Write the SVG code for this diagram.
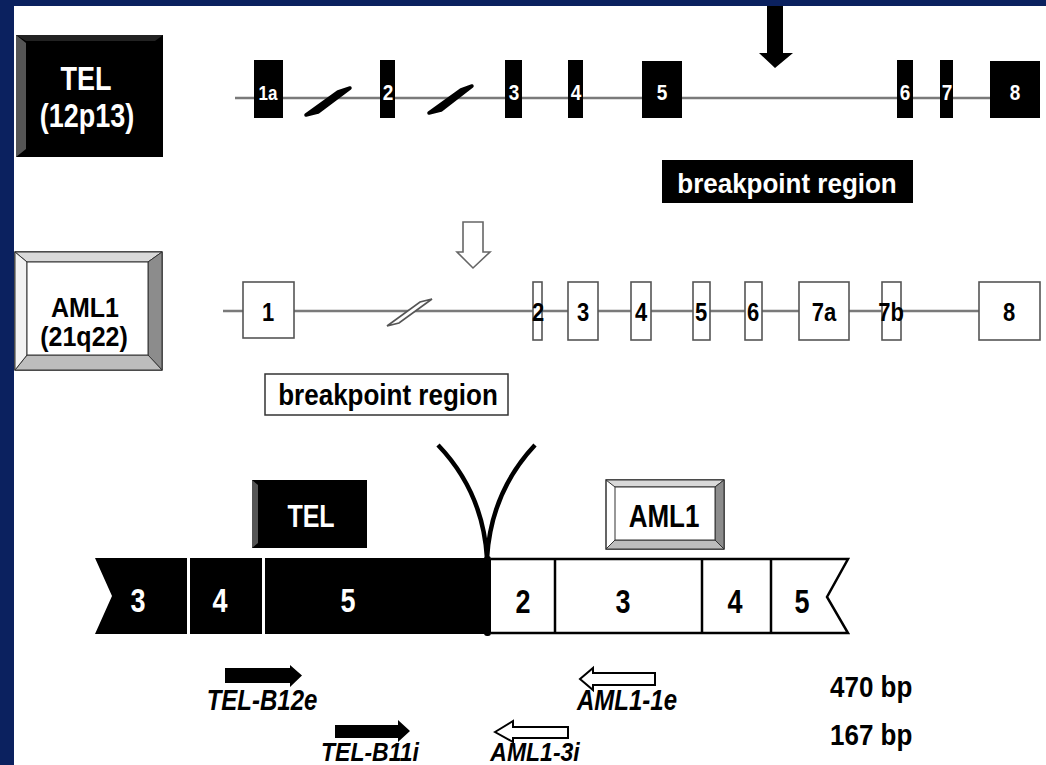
<svg xmlns="http://www.w3.org/2000/svg" width="1046" height="765" viewBox="0 0 1046 765">
<style>
text{font-family:"Liberation Sans",Arial,sans-serif;font-weight:bold;text-anchor:middle}
.w{fill:#fff}
.k{fill:#000}
.it{font-style:italic}
.gene{stroke:#7a7a7a;stroke-width:2.5;fill:none}
.bex{fill:#000}
.wex{fill:#fff;stroke:#555;stroke-width:1.6}
.bar{stroke:#000;stroke-width:2.5}
</style>
<rect x="0" y="0" width="1046" height="765" fill="#fff"/>

<g id="tel-label">
<rect x="16" y="35" width="147" height="122" fill="#000"/>
<polygon points="16,35 26,43 26,149 16,157" fill="#555"/>
<polygon points="16,35 163,35 155,41 26,41" fill="#222"/>
<text class="w" font-size="27" transform="translate(86,90) scale(1,1.2)">TEL</text>
<text class="w" font-size="27" transform="translate(87,127) scale(1,1.2)">(12p13)</text>
</g>

<g id="tel-gene">
<line class="gene" x1="235" y1="98" x2="990" y2="98"/>
<rect class="bex" x="254" y="60" width="29" height="58"/>
<rect class="bex" x="380" y="60" width="15" height="58"/>
<rect class="bex" x="505" y="60" width="17" height="58"/>
<rect class="bex" x="568" y="60" width="15" height="58"/>
<rect class="bex" x="642" y="61" width="40" height="57"/>
<rect class="bex" x="897" y="60" width="16" height="58"/>
<rect class="bex" x="940" y="60" width="13" height="58"/>
<rect class="bex" x="990" y="61" width="50" height="57"/>
<polygon points="306,115 338,92 350,88 318,112" fill="#000" stroke="#000" stroke-width="3.5" stroke-linejoin="round"/>
<polygon points="429,113 461,90 472,86 441,110" fill="#000" stroke="#000" stroke-width="3.5" stroke-linejoin="round"/>
<g font-size="19">
<text class="w" font-size="17" transform="translate(268,100) scale(1,1.15)">1a</text>
<text class="w" transform="translate(388,100) scale(1,1.15)">2</text>
<text class="w" transform="translate(514,100) scale(1,1.15)">3</text>
<text class="w" transform="translate(576,100) scale(1,1.15)">4</text>
<text class="w" transform="translate(662,100) scale(1,1.15)">5</text>
<text class="w" transform="translate(905,100) scale(1,1.15)">6</text>
<text class="w" transform="translate(947,100) scale(1,1.15)">7</text>
<text class="w" transform="translate(1015,100) scale(1,1.15)">8</text>
</g>
</g>

<g id="tel-breakpoint">
<rect x="662" y="160" width="251" height="43" fill="#000"/>
<text class="w" font-size="26" transform="translate(787,193) scale(1,1.05)">breakpoint region</text>
</g>

<g id="aml1-label">
<rect x="15" y="252" width="147" height="118" fill="#fff" stroke="#333" stroke-width="1.5"/>
<polygon points="15,252 162,252 148,262 27,262" fill="#d9d9d9" stroke="#333" stroke-width="1"/>
<polygon points="162,252 162,370 148,355 148,262" fill="#8c8c8c" stroke="#333" stroke-width="1"/>
<polygon points="15,370 162,370 148,355 27,355" fill="#bdbdbd" stroke="#333" stroke-width="1"/>
<polygon points="15,252 27,262 27,355 15,370" fill="#f2f2f2" stroke="#333" stroke-width="1"/>
<rect x="27" y="262" width="121" height="93" fill="#fff" stroke="#333" stroke-width="1"/>
<text class="k" font-size="25" transform="translate(85,317) scale(1,1.1)">AML1</text>
<text class="k" font-size="25" transform="translate(84,346) scale(1,1.1)">(21q22)</text>
</g>

<g id="aml1-gene">
<line class="gene" x1="223" y1="311" x2="979" y2="311"/>
<rect class="wex" x="243" y="282" width="51" height="56"/>
<rect class="wex" x="533" y="282" width="9" height="58"/>
<rect class="wex" x="568" y="282" width="30" height="58"/>
<rect class="wex" x="631" y="282" width="20" height="58"/>
<rect class="wex" x="693" y="282" width="17" height="58"/>
<rect class="wex" x="745" y="282" width="17" height="58"/>
<rect class="wex" x="799" y="282" width="50" height="58"/>
<rect class="wex" x="882" y="282" width="19" height="58"/>
<rect class="wex" x="979" y="282" width="61" height="58"/>
<polygon points="387,326 420,302 432,299 399,323" fill="#fff" stroke="#555" stroke-width="1.6"/>
<g font-size="22">
<text class="k" transform="translate(268,321) scale(1,1.15)">1</text>
<text class="k" transform="translate(538,321) scale(1,1.15)">2</text>
<text class="k" transform="translate(583,321) scale(1,1.15)">3</text>
<text class="k" transform="translate(641,321) scale(1,1.15)">4</text>
<text class="k" transform="translate(701,321) scale(1,1.15)">5</text>
<text class="k" transform="translate(753,321) scale(1,1.15)">6</text>
<text class="k" transform="translate(824,321) scale(1,1.15)">7a</text>
<text class="k" transform="translate(891,321) scale(1,1.15)">7b</text>
<text class="k" transform="translate(1009,321) scale(1,1.15)">8</text>
</g>
</g>

<g id="aml1-breakpoint">
<rect x="265" y="374" width="243" height="41" fill="#fff" stroke="#333" stroke-width="1.5"/>
<text class="k" font-size="26" transform="translate(388,405) scale(1,1.1)">breakpoint region</text>
</g>

<g id="connectors">
<polygon points="767,0 783,0 783,53 793,53 775,68 759,53 767,53" fill="#000"/>
<polygon points="463,222 483,222 483,252 490,252 473,268 457,252 463,252" fill="#fff" stroke="#666" stroke-width="1.6"/>
<path d="M438,445 Q483,492 487,558 M535,445 Q491,492 487,558" fill="none" stroke="#000" stroke-width="4.5"/>
</g>

<g id="tel-box-small">
<rect x="252" y="480" width="115" height="68" fill="#000"/>
<polygon points="252,480 258,485 258,543 252,548" fill="#555"/>
<text class="w" font-size="25" transform="translate(311,527) scale(1,1.22)">TEL</text>
</g>

<g id="aml1-box-small">
<rect x="606" y="480" width="118" height="69" fill="#fff" stroke="#333" stroke-width="1.5"/>
<polygon points="606,480 724,480 715,487 615,487" fill="#d9d9d9" stroke="#333" stroke-width="1"/>
<polygon points="724,480 724,549 715,540 715,487" fill="#8c8c8c" stroke="#333" stroke-width="1"/>
<polygon points="606,549 724,549 715,540 615,540" fill="#bdbdbd" stroke="#333" stroke-width="1"/>
<rect x="615" y="487" width="100" height="53" fill="#fff" stroke="#333" stroke-width="1"/>
<text class="k" font-size="26" transform="translate(664,527) scale(1,1.2)">AML1</text>
</g>

<g id="fusion-tel">
<path d="M95,558 L486,558 Q491,558 491,563 L491,629 Q491,634 486,634 L95,634 L112,596 Z" fill="#000"/>
<rect x="187" y="558" width="3" height="76" fill="#fff"/>
<rect x="262" y="558" width="3" height="76" fill="#fff"/>
<text class="w" font-size="27" transform="translate(138,612) scale(1,1.22)">3</text>
<text class="w" font-size="27" transform="translate(220,612) scale(1,1.22)">4</text>
<text class="w" font-size="27" transform="translate(348,612) scale(1,1.22)">5</text>
</g>

<g id="fusion-aml1">
<path class="bar" d="M491,559 L848,559 L827,597 L848,633 L491,633" fill="#fff"/>
<line class="bar" x1="555" y1="559" x2="555" y2="633"/>
<line class="bar" x1="702" y1="559" x2="702" y2="633"/>
<line class="bar" x1="771" y1="559" x2="771" y2="633"/>
<rect x="484" y="556" width="7" height="80" rx="3" fill="#000"/>
<text class="k" font-size="27" transform="translate(523,613) scale(1,1.22)">2</text>
<text class="k" font-size="27" transform="translate(623,613) scale(1,1.22)">3</text>
<text class="k" font-size="27" transform="translate(735,613) scale(1,1.22)">4</text>
<text class="k" font-size="27" transform="translate(802,613) scale(1,1.22)">5</text>
</g>

<g id="primer-tel-b12e">
<polygon points="225,668 290,668 290,665 302,675.5 290,687 290,683 225,683" fill="#000"/>
<text class="k it" font-size="24" transform="translate(262,710) scale(1,1.2)">TEL-B12e</text>
</g>
<g id="primer-tel-b11i">
<polygon points="335,725 398,725 398,720 410,731 398,742 398,738 335,738" fill="#000"/>
<text class="k it" font-size="23" transform="translate(370,761) scale(1,1.12)">TEL-B11i</text>
</g>
<g id="primer-aml1-1e">
<polygon points="580,679 593,668 593,673 655,673 655,685 593,685 593,690" fill="#fff" stroke="#000" stroke-width="2"/>
<text class="k it" font-size="24" transform="translate(627,710) scale(1,1.2)">AML1-1e</text>
</g>
<g id="primer-aml1-3i">
<polygon points="495,732 513,721 513,727 568,727 568,738 513,738 513,742" fill="#fff" stroke="#000" stroke-width="2"/>
<text class="k it" font-size="23" transform="translate(535,761) scale(1,1.12)">AML1-3i</text>
</g>

<g id="sizes">
<text class="k" font-size="26" style="text-anchor:start" transform="translate(830,697) scale(1,1.15)">470 bp</text>
<text class="k" font-size="26" style="text-anchor:start" transform="translate(830,745) scale(1,1.15)">167 bp</text>
</g>

<rect x="0" y="0" width="1046" height="6" fill="#0b215f"/>
<rect x="0" y="0" width="14" height="765" fill="#0b215f"/>
</svg>
